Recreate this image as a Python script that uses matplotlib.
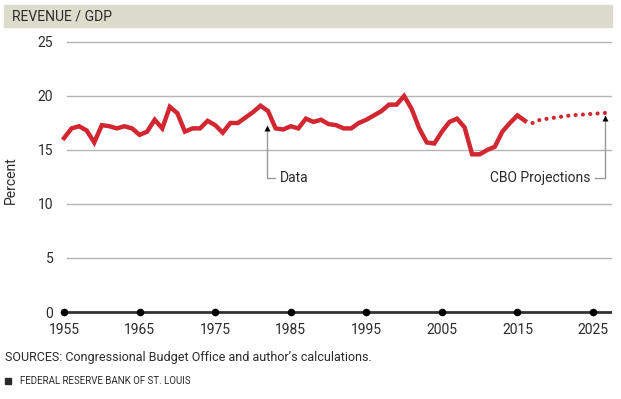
import matplotlib
matplotlib.use('Agg')
import matplotlib.pyplot as plt
import numpy as np
from matplotlib.patches import Rectangle

plt.rcParams['font.family'] = ['Roboto', 'DejaVu Sans']

# federal revenue as percent of GDP
years = list(range(1955, 2017))
revenue = [16.1, 17.0, 17.2, 16.8, 15.7, 17.3, 17.2, 17.0, 17.2, 17.0,
           16.4, 16.7, 17.8, 17.0, 19.0, 18.4, 16.7, 17.0, 17.0, 17.7,
           17.3, 16.6, 17.5, 17.5, 18.0, 18.5, 19.1, 18.6, 17.0, 16.9,
           17.2, 17.0, 17.9, 17.6, 17.8, 17.4, 17.3, 17.0, 17.0, 17.5,
           17.8, 18.2, 18.6, 19.2, 19.2, 20.0, 18.8, 17.0, 15.7, 15.6,
           16.7, 17.6, 17.9, 17.1, 14.6, 14.6, 15.0, 15.3, 16.7, 17.5,
           18.2, 17.7]
proj_years = list(range(2017, 2028))
proj_revenue = [17.5, 17.8, 17.9, 18.0, 18.1, 18.2, 18.25, 18.3, 18.35, 18.4, 18.45]

xticks = [1955, 1965, 1975, 1985, 1995, 2005, 2015, 2025]
yticks = [0, 5, 10, 15, 20, 25]

red = '#d22630'
grid_c = '#b4b4b4'
axis_c = '#333333'
text_c = '#2a2a2a'

fig = plt.figure(figsize=(6.21, 3.99), dpi=100)
ax = fig.add_axes([0.097, 0.2018, 0.8884, 0.7065])
ax.set_xlim(1954.5, 2027.5)
ax.set_ylim(-0.6, 25.5)

for v in yticks[1:]:
    ax.plot([1955.4, 2027.4], [v, v], color=grid_c, lw=1.0, zorder=1)
ax.plot([1954.8, 2027.4], [0, 0], color=axis_c, lw=2.0, zorder=2)
ax.scatter(xticks, [0] * len(xticks), s=20, color='black', zorder=3)

ax.plot(years, revenue, color=red, lw=3.2, solid_joinstyle='miter', zorder=4)
ax.plot(proj_years, proj_revenue, color=red, lw=3.0, linestyle=(0, (0.01, 1.75)),
        dash_capstyle='round', zorder=4)

# annotation leaders: grey line, small black head
ax.plot([1981.9, 1981.9, 1982.9], [17.0, 12.45, 12.45], color='#999999', lw=1.0)
ax.plot([1981.9], [17.05], marker='^', ms=4, color='black', mec='none')
ax.text(1983.5, 12.45, 'Data', fontsize=10, va='center', ha='left', color=text_c)

ax.plot([2025.3, 2026.6, 2026.6], [12.45, 12.45, 17.9], color='#999999', lw=1.0)
ax.plot([2026.6], [17.95], marker='^', ms=4, color='black', mec='none')
ax.text(2024.7, 12.45, 'CBO Projections', fontsize=10, va='center', ha='right', color=text_c)

for s in ax.spines.values():
    s.set_visible(False)
ax.set_xticks(xticks)
ax.set_yticks(yticks)
ax.tick_params(length=0, labelsize=10, colors=text_c)
ax.tick_params(axis='y', pad=5)
ax.tick_params(axis='x', pad=3)
ax.set_ylabel('Percent', fontsize=10, color=text_c)
ax.yaxis.set_label_coords(-0.077, 0.49)

# header band
fig.patches.append(Rectangle((4 / 621, 1 - 27 / 399), 608 / 621, 22 / 399,
                             transform=fig.transFigure, color='#dcdccd', zorder=0))
fig.text(12 / 621, 1 - 16.5 / 399, 'REVENUE / GDP', fontsize=10, va='center', ha='left',
         color=text_c)

fig.text(5 / 621, 1 - 358 / 399, "SOURCES: Congressional Budget Office and author\u2019s calculations.",
         fontsize=9, va='center', ha='left', color=text_c)
fig.patches.append(Rectangle((5 / 621, 1 - 384 / 399), 6 / 621, 6 / 399,
                             transform=fig.transFigure, color=text_c))
fig.text(20 / 621, 1 - 381 / 399, 'FEDERAL RESERVE BANK OF ST. LOUIS', fontsize=7,
         va='center', ha='left', color=text_c)

fig.savefig('out.png', dpi=100)
